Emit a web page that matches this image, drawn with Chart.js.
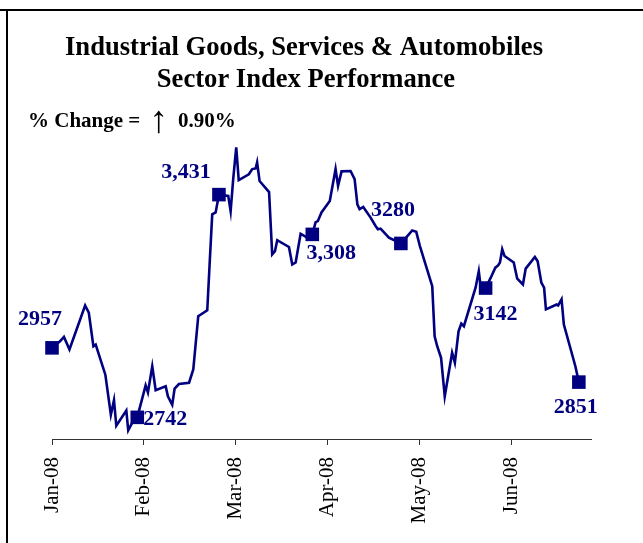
<!DOCTYPE html>
<html>
<head>
<meta charset="utf-8">
<title>Industrial Goods, Services &amp; Automobiles</title>
<script src="https://cdn.jsdelivr.net/npm/chart.js@4.4.1/dist/chart.umd.min.js"></script>
<style>
	body { margin: 0; background: #fff; }
	#myChart { display: block; }
</style>
</head>
<body>
<canvas id="myChart" width="643" height="543"></canvas>
<script>
// tick labels, one at the start of each month
const monthLabels = ['Jan-08', 'Feb-08', 'Mar-08', 'Apr-08', 'May-08', 'Jun-08'];

// where each close sits on the axis, in months since 1 Jan
const monthPos = [
	0.00, 0.087, 0.13, 0.19, 0.36, 0.40, 0.45, 0.475, 0.58, 0.64,
	0.674, 0.699, 0.808, 0.829, 0.89, 0.927, 1.018, 1.043, 1.09, 1.127,
	1.236, 1.26, 1.307, 1.333, 1.38, 1.49, 1.536, 1.59, 1.688, 1.714,
	1.742, 1.779, 1.815, 1.916, 1.942, 1.97, 2.003, 2.03, 2.14, 2.177,
	2.214, 2.23, 2.257, 2.36, 2.394, 2.424, 2.449, 2.576, 2.612, 2.649,
	2.703, 2.775, 2.83, 2.866, 2.89, 2.93, 3.02, 3.083, 3.11, 3.148,
	3.246, 3.29, 3.32, 3.344, 3.384, 3.464, 3.518, 3.543, 3.572, 3.663,
	3.793, 3.88, 3.916, 3.96, 4.0, 4.134, 4.16, 4.188, 4.23, 4.27,
	4.35, 4.38, 4.42, 4.45, 4.478, 4.605, 4.64, 4.66, 4.714, 4.77,
	4.82, 4.85, 4.87, 4.895, 4.92, 5.02, 5.058, 5.12, 5.15, 5.25,
	5.28, 5.32, 5.35, 5.37, 5.486, 5.503, 5.54, 5.565, 5.69, 5.728
];

// sector index closes
const indexVals = [
	2957, 2977, 2991, 2952, 3088, 3066, 2962, 2967, 2874, 2750,
	2795, 2716, 2763, 2702, 2735, 2742, 2841, 2819, 2900, 2826,
	2838, 2807, 2781, 2831, 2845, 2849, 2890, 3055, 3073, 3218,
	3370, 3376, 3431, 3427, 3380, 3479, 3577, 3476, 3494, 3510,
	3512, 3531, 3473, 3439, 3246, 3256, 3290, 3269, 3215, 3221,
	3310, 3298, 3308, 3346, 3349, 3376, 3411, 3510, 3458, 3503,
	3504, 3479, 3401, 3386, 3393, 3360, 3334, 3324, 3326, 3298,
	3280, 3308, 3320, 3316, 3272, 3148, 2993, 2962, 2926, 2807,
	2942, 2911, 3008, 3032, 3024, 3143, 3194, 3148, 3142, 3174,
	3205, 3212, 3221, 3262, 3241, 3221, 3171, 3153, 3202, 3238,
	3225, 3159, 3143, 3076, 3091, 3088, 3107, 3029, 2900, 2851
];

// closes that get a square marker and a value label
const markIdx = [0, 15, 32, 52, 70, 88, 109];
const markComma = [false, false, true, true, false, false, false];

const pctChange = '0.90%';

// label placement around each marker (dx, dy of the text centre)
const markOffset = [[-12, -30], [28, 0], [-33, -24], [19, 17], [-8, -35], [10, 24], [-3, 23]];

const NAVY = '#000080';
const SERIF = '"Liberation Serif", "Times New Roman", serif';

const decor = {
	id: 'decor',
	afterDraw(chart) {
		const ctx = chart.ctx;
		ctx.save();
		// frame lines
		ctx.fillStyle = '#000';
		ctx.fillRect(0, 9, 643, 2);
		ctx.fillRect(6, 9, 2, 534);

		// title
		ctx.textAlign = 'center';
		ctx.textBaseline = 'alphabetic';
		ctx.font = 'bold 26.6px ' + SERIF;
		ctx.fillText('Industrial Goods, Services & Automobiles', 304, 55);
		ctx.fillText('Sector Index Performance', 306, 87);

		// % change line
		ctx.textAlign = 'left';
		ctx.font = 'bold 21px ' + SERIF;
		ctx.fillText('% Change =', 28, 127);
		ctx.font = '38px ' + SERIF;
		ctx.fillText('\u2191', 149, 132);
		ctx.font = 'bold 21px ' + SERIF;
		ctx.fillText(pctChange, 178, 127);

		// value labels next to the markers
		const meta = chart.getDatasetMeta(0);
		ctx.fillStyle = NAVY;
		ctx.textAlign = 'center';
		ctx.font = 'bold 22px ' + SERIF;
		markIdx.forEach(function(i, k) {
			const p = meta.data[i];
			const v = indexVals[i];
			const txt = markComma[k] ? v.toLocaleString('en-US') : String(v);
			ctx.fillText(txt, p.x + markOffset[k][0], p.y + markOffset[k][1] + 7.5);
		});
		ctx.restore();
	}
};

const ctx = document.getElementById('myChart').getContext('2d');
const myChart = new Chart(ctx, {
	type: 'line',
	data: {
		datasets: [{
			data: monthPos.map(function(m, i) { return { x: m, y: indexVals[i] }; }),
			borderColor: NAVY,
			borderWidth: 2.6,
			tension: 0,
			clip: false,
			pointStyle: 'rect',
			pointRadius: function(c) { return markIdx.includes(c.dataIndex) ? 9.6 : 0; },
			pointHoverRadius: function(c) { return markIdx.includes(c.dataIndex) ? 9.6 : 0; },
			pointBackgroundColor: NAVY,
			pointBorderColor: NAVY,
			pointBorderWidth: 0
		}]
	},
	options: {
		responsive: false,
		animation: false,
		events: [],
		layout: {
			padding: { left: 52, right: 52, top: 140, bottom: 0 }
		},
		plugins: {
			legend: { display: false },
			tooltip: { enabled: false }
		},
		scales: {
			x: {
				type: 'linear',
				min: 0,
				max: 5.86,
				afterBuildTicks: function(scale) {
					scale.ticks = monthLabels.map(function(l, i) { return { value: i }; });
				},
				afterFit: function(scale) {
					scale.height = 104;
				},
				ticks: {
					autoSkip: false,
					minRotation: 90,
					maxRotation: 90,
					padding: 12,
					color: '#000',
					font: { family: SERIF, size: 21 },
					callback: function(v) { return monthLabels[v]; }
				},
				grid: {
					drawOnChartArea: false,
					drawTicks: true,
					tickLength: 6,
					color: '#333'
				},
				border: { display: true, color: '#333', width: 1 }
			},
			y: {
				display: false,
				min: 2675,
				max: 3600
			}
		}
	},
	plugins: [decor]
});
</script>
</body>
</html>
